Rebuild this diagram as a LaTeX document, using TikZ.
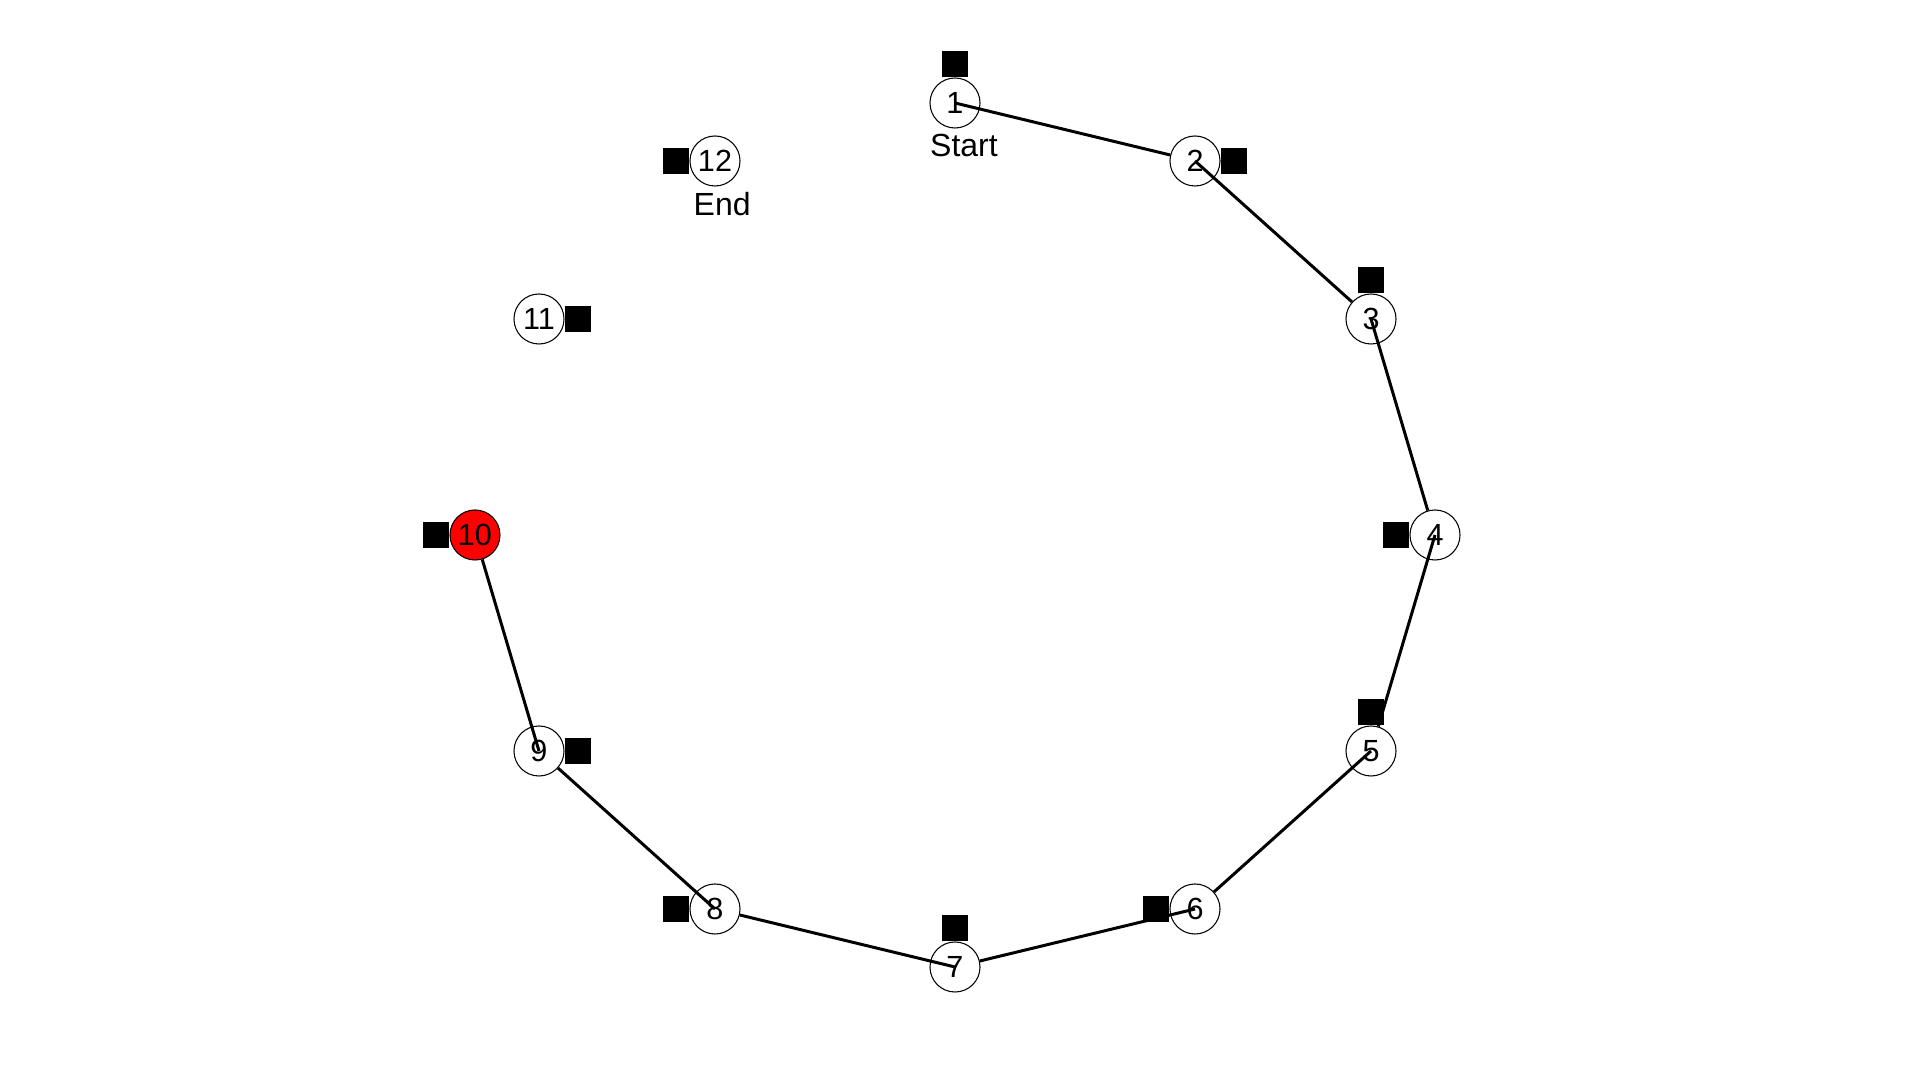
\documentclass[tikz,border=0pt]{standalone}
\usepackage{fontspec}
\setmainfont{Liberation Sans}
\usepackage{tikz}

\tikzset{
  stop/.style={circle, draw, line width=0.3pt, fill=white, minimum size=0.5cm, inner sep=0pt},
  box/.style={fill=black, minimum size=0.26cm, inner sep=0pt},
  leg/.style={line width=0.85pt},
  tag/.style={anchor=north west, inner sep=0pt, yshift=-1.4pt, font=\fontsize{9.1}{10}\selectfont}
}

\begin{document}
\begin{tikzpicture}[x=0.01cm,y=-0.01cm,font=\fontsize{8.7}{10}\selectfont]
\useasboundingbox (0,0) rectangle (1920,1080);
\node [stop] (s1) at (955,103) {1};
\node [stop] (s2) at (1195,161) {2};
\node [stop] (s3) at (1371,319) {3};
\node [stop] (s4) at (1435,535) {4};
\node [stop] (s5) at (1371,751) {5};
\node [stop] (s6) at (1195,909) {6};
\node [stop] (s7) at (955,967) {7};
\node [stop] (s8) at (715,909) {8};
\node [stop] (s9) at (539,751) {9};
\node [stop, fill=red] (s10) at (475,535) {10};
\node [stop] (s11) at (539,319) {11};
\node [stop] (s12) at (715,161) {12};
\node [box, anchor=south] (q1) at (s1.north) {};
\node [box, anchor=west] (q2) at (s2.east) {};
\node [box, anchor=south] (q3) at (s3.north) {};
\node [box, anchor=east] (q4) at (s4.west) {};
\node [box, anchor=south] (q5) at (s5.north) {};
\node [box, anchor=east] (q6) at (s6.west) {};
\node [box, anchor=south] (q7) at (s7.north) {};
\node [box, anchor=east] (q8) at (s8.west) {};
\node [box, anchor=west] (q9) at (s9.east) {};
\node [box, anchor=east] (q10) at (s10.west) {};
\node [box, anchor=west] (q11) at (s11.east) {};
\node [box, anchor=east] (q12) at (s12.west) {};
\node [tag] (start) at (s1.west |- s1.south) {Start};
\node [tag, xshift=1pt] (end) at (s12.west |- s12.south) {End};
\draw [leg] (s1.center) -- (s2);
\draw [leg] (s2.center) -- (s3);
\draw [leg] (s3.center) -- (s4);
\draw [leg] (s4.center) -- (s5);
\draw [leg] (s5.center) -- (s6);
\draw [leg] (s6.center) -- (s7);
\draw [leg] (s7.center) -- (s8);
\draw [leg] (s8.center) -- (s9);
\draw [leg] (s9.center) -- (s10);
\end{tikzpicture}
\end{document}
